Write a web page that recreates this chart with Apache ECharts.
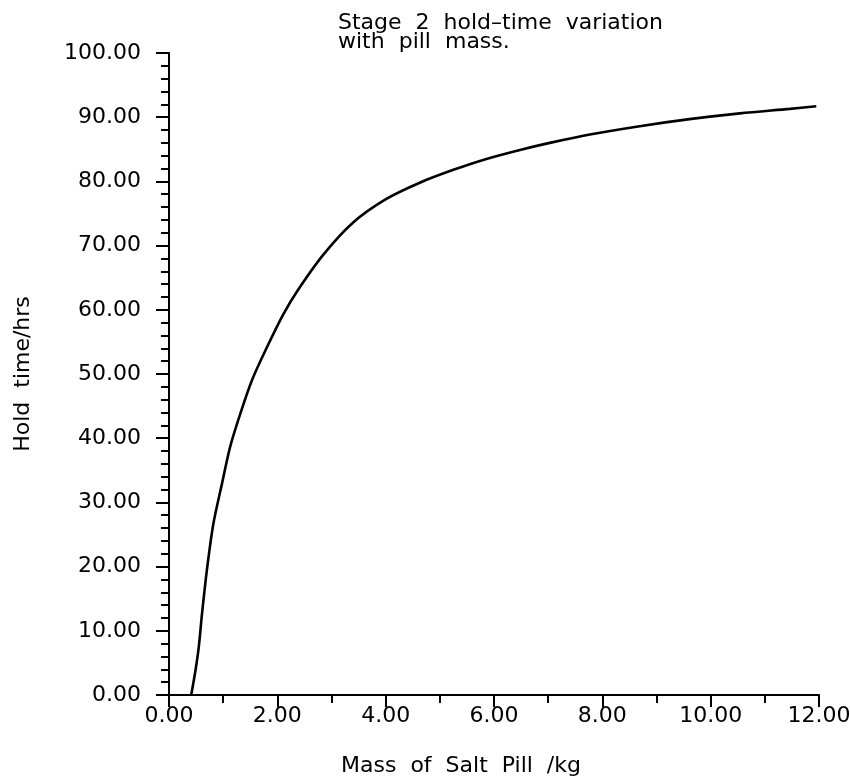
<!DOCTYPE html>
<html>
<head>
<meta charset="utf-8">
<script src="https://cdn.jsdelivr.net/npm/echarts@6/dist/echarts.min.js"></script>
<style>
  html, body { margin: 0; padding: 0; background: #fff; }
  #chart { width: 850px; height: 776px; }
</style>
</head>
<body>
<div id="chart"></div>
<script>
// Pill mass (kg) and resulting stage 2 hold time (hrs)
const massKg = [0.41, 0.49, 0.55, 0.61, 0.70, 0.82, 0.98, 1.13, 1.32, 1.53, 1.81, 2.11, 2.39, 2.85, 3.40, 4.02, 4.63, 5.25, 5.86, 6.48, 7.03, 7.77, 8.69, 9.61, 10.54, 11.46, 11.95];
const holdHrs = [0.0, 3.9, 7.5, 12.7, 19.5, 26.7, 33.0, 38.7, 43.9, 49.0, 54.2, 59.3, 63.2, 68.6, 73.6, 77.3, 79.8, 81.8, 83.5, 84.9, 86.0, 87.3, 88.6, 89.7, 90.6, 91.3, 91.7];

const titleLines = ['Stage  2  hold–time  variation', 'with  pill  mass.'];
const xName = 'Mass  of  Salt  Pill  /kg';
const yName = 'Hold  time/hrs';

const FONT = 'DejaVu Sans';
const chart = echarts.init(document.getElementById('chart'), null, { renderer: 'canvas' });

chart.setOption({
  backgroundColor: '#ffffff',
  animation: false,
  title: {
    text: titleLines.join('\n'),
    left: 333,
    top: 9,
    textStyle: { fontFamily: FONT, fontSize: 22, fontWeight: 'normal', color: '#000', lineHeight: 19 }
  },
  grid: { left: 169, right: 31, top: 53, bottom: 81, containLabel: false, outerBoundsMode: 'none' },
  xAxis: {
    type: 'value',
    min: 0, max: 12, interval: 2,
    name: xName,
    nameLocation: 'middle',
    nameGap: 60,
    nameTextStyle: { fontFamily: FONT, fontSize: 22, color: '#000', padding: [0, 66, 0, 0] },
    axisLine: { show: true, onZero: false, lineStyle: { color: '#000', width: 2 } },
    axisTick: { show: true, length: 12, lineStyle: { color: '#000', width: 2 } },
    minorTick: { show: true, splitNumber: 2, length: 8, lineStyle: { color: '#000', width: 2 } },
    splitLine: { show: false },
    axisLabel: {
      margin: 10, color: '#000', fontFamily: FONT, fontSize: 22,
      formatter: v => v.toFixed(2)
    }
  },
  yAxis: {
    type: 'value',
    min: 0, max: 100, interval: 10,
    name: yName,
    nameLocation: 'middle',
    nameGap: 135,
    nameRotate: 90,
    nameTextStyle: { fontFamily: FONT, fontSize: 22, color: '#000' },
    axisLine: { show: true, lineStyle: { color: '#000', width: 2 } },
    axisTick: { show: true, length: 13, lineStyle: { color: '#000', width: 2 } },
    minorTick: { show: true, splitNumber: 5, length: 8, lineStyle: { color: '#000', width: 2 } },
    splitLine: { show: false },
    axisLabel: {
      margin: 28, color: '#000', fontFamily: FONT, fontSize: 22,
      formatter: v => v.toFixed(2)
    }
  },
  series: [{
    type: 'line',
    data: massKg.map((m, i) => [m, holdHrs[i]]),
    smooth: 0.3,
    showSymbol: false,
    lineStyle: { color: '#000', width: 2.6 }
  }]
});
</script>
</body>
</html>
